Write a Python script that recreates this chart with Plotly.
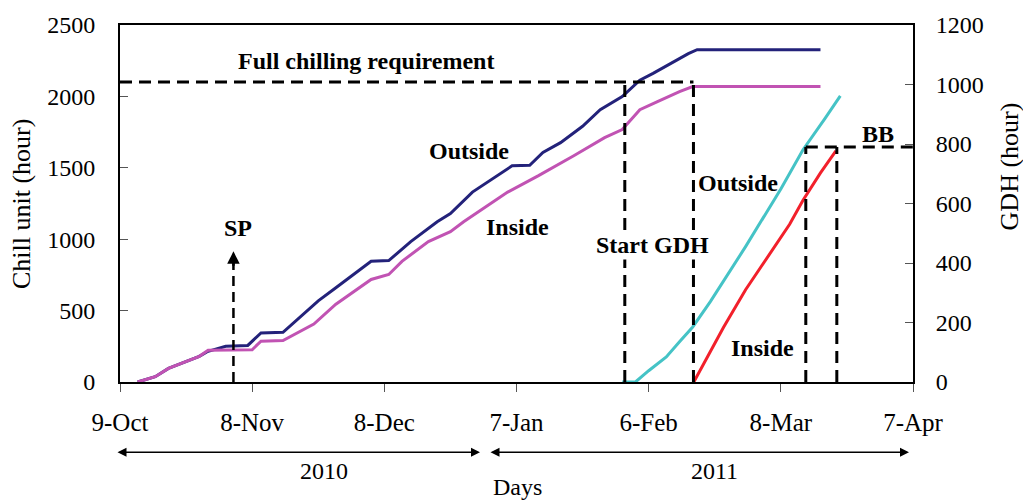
import plotly.graph_objects as go

# ---- data -------------------------------------------------------------
# cumulative chill units (hours), outside the greenhouse
chill_out_dates = ["2010-10-13", "2010-10-17", "2010-10-20", "2010-10-24", "2010-10-27",
                   "2010-10-29", "2010-11-02", "2010-11-07", "2010-11-10", "2010-11-15",
                   "2010-11-23", "2010-11-27", "2010-12-05", "2010-12-09", "2010-12-14",
                   "2010-12-20", "2010-12-23", "2010-12-28", "2011-01-06", "2011-01-10",
                   "2011-01-13", "2011-01-17", "2011-01-22", "2011-01-26", "2011-01-31",
                   "2011-02-04", "2011-02-07", "2011-02-15", "2011-02-17", "2011-03-17"]
chill_out = [0, 37, 95, 141, 180, 215, 250, 256, 344, 348,
             568, 660, 845, 850, 983, 1122, 1179, 1330, 1514, 1517,
             1607, 1676, 1791, 1907, 1999, 2114, 2161, 2299, 2327, 2327]

# cumulative chill units (hours), inside the greenhouse
chill_in_dates = ["2010-10-13", "2010-10-17", "2010-10-20", "2010-10-24", "2010-10-27",
                  "2010-10-29", "2010-11-08", "2010-11-10", "2010-11-15", "2010-11-22",
                  "2010-11-27", "2010-12-05", "2010-12-09", "2010-12-12", "2010-12-18",
                  "2010-12-23", "2010-12-26", "2011-01-05", "2011-01-12", "2011-01-20",
                  "2011-01-27", "2011-01-31", "2011-02-04", "2011-02-08", "2011-02-13",
                  "2011-02-16", "2011-03-17"]
chill_in = [0, 37, 95, 141, 180, 222, 226, 286, 291, 406,
            545, 718, 753, 845, 983, 1053, 1122, 1330, 1445, 1584,
            1711, 1768, 1907, 1964, 2034, 2069, 2069]

# growing degree hours (GDH), outside
gdh_out_dates = ["2011-01-31", "2011-02-03", "2011-02-06", "2011-02-10", "2011-02-13",
                 "2011-02-16", "2011-02-20", "2011-02-28", "2011-03-08", "2011-03-13",
                 "2011-03-18", "2011-03-21 12:00"]
gdh_out = [0, 0, 38, 84, 135, 185, 270, 455, 649, 780, 885, 962]

# growing degree hours (GDH), inside
gdh_in_dates = ["2011-02-16 06:00", "2011-02-23", "2011-02-28", "2011-03-05", "2011-03-10",
                "2011-03-13", "2011-03-17", "2011-03-20 12:00"]
gdh_in = [0, 184, 310, 420, 530, 610, 703, 777]

# reference levels and events
full_chill_req = 2100
bb_gdh = 790
start_gdh_date = "2011-01-31 14:00"
chill_met_date = "2011-02-16 04:00"
bb_out_date = "2011-03-13 16:00"
bb_in_date = "2011-03-20 17:00"
sp_date = "2010-11-03 18:00"
sp_level = 915

tick_dates = ["2010-10-09", "2010-11-08", "2010-12-08", "2011-01-07",
              "2011-02-06", "2011-03-08", "2011-04-07"]
tick_labels = ["9-Oct", "8-Nov", "8-Dec", "7-Jan", "6-Feb", "8-Mar", "7-Apr"]

# ---- styling ------------------------------------------------------------
FONT = "Liberation Serif"
NAVY = "#23227A"
PURPLE = "#C153B3"
TEAL = "#45C3C6"
RED = "#F2202B"
DASH = "12px,7px"

W, H = 1023, 502
L, R, T, B = 120, 913, 21, 382


def px(x):
    return (x - L) / (R - L)


def py(y):
    return (B - y) / (B - T)


fig = go.Figure()
fig.add_trace(go.Scatter(x=chill_out_dates, y=chill_out, mode="lines",
                         line=dict(color=NAVY, width=3), name="Chill outside"))
fig.add_trace(go.Scatter(x=chill_in_dates, y=chill_in, mode="lines",
                         line=dict(color=PURPLE, width=3), name="Chill inside"))
fig.add_trace(go.Scatter(x=gdh_out_dates, y=gdh_out, mode="lines", yaxis="y2",
                         line=dict(color=TEAL, width=3), name="GDH outside"))
fig.add_trace(go.Scatter(x=gdh_in_dates, y=gdh_in, mode="lines", yaxis="y2",
                         line=dict(color=RED, width=3), name="GDH inside"))

dash_line = dict(color="black", width=3, dash=DASH)
shapes = [
    # full chilling requirement
    dict(type="line", xref="x", yref="y", x0=tick_dates[0], x1=chill_met_date,
         y0=full_chill_req, y1=full_chill_req, line=dash_line),
    dict(type="line", xref="x", yref="y", x0=start_gdh_date, x1=start_gdh_date,
         y0=0, y1=full_chill_req, line=dash_line),
    dict(type="line", xref="x", yref="y", x0=chill_met_date, x1=chill_met_date,
         y0=0, y1=full_chill_req, line=dash_line),
    # bud break
    dict(type="line", xref="x", yref="y2", x0=bb_out_date, x1=tick_dates[-1],
         y0=bb_gdh, y1=bb_gdh, line=dash_line),
    dict(type="line", xref="x", yref="y2", x0=bb_out_date, x1=bb_out_date,
         y0=0, y1=bb_gdh, line=dash_line),
    dict(type="line", xref="x", yref="y2", x0=bb_in_date, x1=bb_in_date,
         y0=0, y1=bb_gdh, line=dash_line),
    # SP marker
    dict(type="line", xref="x", yref="y", x0=sp_date, x1=sp_date,
         y0=0, y1=sp_level - 60, line=dict(color="black", width=2.5, dash="10px,6px")),
]

bold = dict(family=FONT, size=24, color="black")
reg = dict(family=FONT, size=24, color="black")
title_font = dict(family=FONT, size=26, color="black")


def label(text, x, y, font=bold, bg=None, angle=0):
    return dict(text=text, x=px(x), y=py(y), xref="paper", yref="paper",
                showarrow=False, font=font, xanchor="center", yanchor="middle",
                bgcolor=bg, textangle=angle)


annotations = [
    label("<b>Full chilling requirement</b>", 366, 57),
    label("<b>Outside</b>", 469, 148),
    label("<b>Inside</b>", 517, 225),
    label("<b>SP</b>", 238, 226),
    label("<b>Start GDH</b>", 652, 243, bg="white"),
    label("<b>Outside</b>", 738, 181),
    label("<b>Inside</b>", 762, 348),
    label("<b>BB</b>", 878, 131),
    label("2010", 324, 472, font=reg),
    label("2011", 714, 472, font=reg),
    label("Days", 517, 488, font=reg),
    # axis titles
    label("Chill unit (hour)", 22, 202, font=title_font, angle=-90),
    label("GDH (hour)", 1009, 164, font=title_font, angle=-90),
    # SP arrow head
    dict(x=sp_date, y=sp_level, xref="x", yref="y", ax=0, ay=16, axref="pixel",
         ayref="pixel", showarrow=True, arrowhead=2, arrowsize=1, arrowwidth=2.5,
         arrowcolor="black", text=""),
    # year spans
    dict(x=px(480), y=py(453), xref="paper", yref="paper", ax=-(480 - 116), ay=0,
         showarrow=True, arrowhead=2, arrowside="end+start", arrowsize=1.2,
         arrowwidth=1.5, arrowcolor="black", text=""),
    dict(x=px(909), y=py(453), xref="paper", yref="paper", ax=-(909 - 489), ay=0,
         showarrow=True, arrowhead=2, arrowside="end+start", arrowsize=1.2,
         arrowwidth=1.5, arrowcolor="black", text=""),
]

axis_font = dict(family=FONT, size=24, color="black")
xtick_font = dict(family=FONT, size=25, color="black")

fig.update_layout(
    width=W, height=H,
    margin=dict(l=L, r=W - R, t=T, b=H - B),
    paper_bgcolor="white", plot_bgcolor="white",
    showlegend=False,
    font=dict(family=FONT, color="black"),
    shapes=shapes,
    annotations=annotations,
    xaxis=dict(type="date", range=[tick_dates[0], tick_dates[-1]],
               tickmode="array", tickvals=tick_dates, ticktext=tick_labels,
               ticks="outside", ticklen=8, tickwidth=1, tickcolor="#555",
               showline=True, linecolor="black", linewidth=2, mirror=True,
               showgrid=False, zeroline=False, tickfont=xtick_font,
               ticklabelstandoff=9),
    yaxis=dict(range=[0, 2500], dtick=500, ticks="inside", ticklen=8, tickwidth=1,
               tickcolor="#555", showline=True, linecolor="black", linewidth=2,
               showgrid=False, zeroline=False, tickfont=axis_font,
               ticklabelstandoff=18),
    yaxis2=dict(range=[0, 1200], dtick=200, overlaying="y", side="right",
                ticks="inside", ticklen=8, tickwidth=1, tickcolor="#555",
                showline=True, linecolor="black", linewidth=2,
                showgrid=False, zeroline=False, tickfont=axis_font,
                ticklabelstandoff=16),
)

fig.write_html("out.html")
